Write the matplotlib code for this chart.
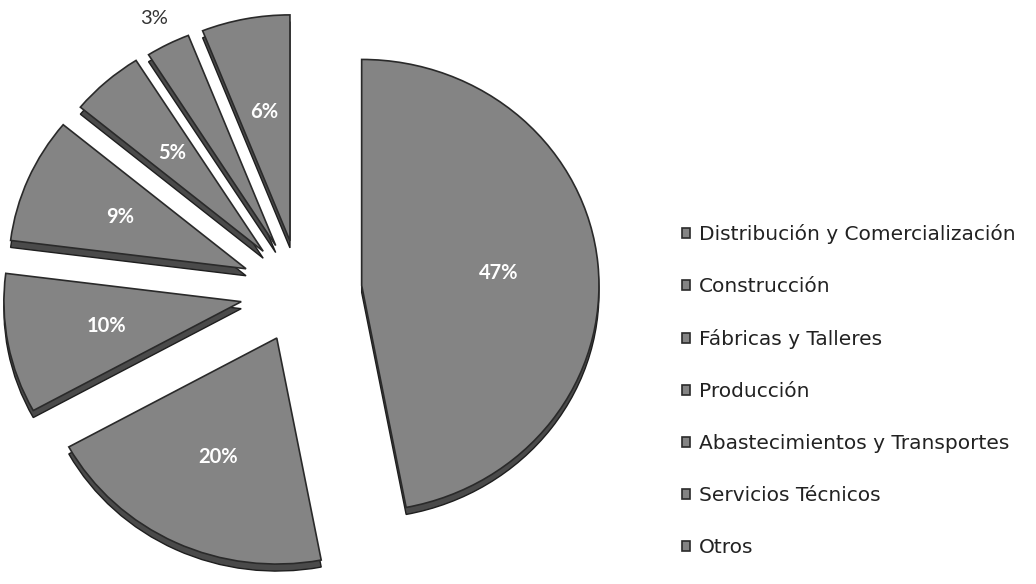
import numpy as np
import matplotlib.pyplot as plt

# shares by sector, clockwise from 12 o'clock
sectores = ["Distribución y Comercialización", "Construcción", "Fábricas y Talleres",
            "Producción", "Abastecimientos y Transportes", "Servicios Técnicos", "Otros"]
porcentajes = [47, 20, 10, 9, 5, 3, 6]

W, H = 1036, 584
estira = 1.05  # pie is a little wider than tall

fig = plt.figure(figsize=(W / 100, H / 100), dpi=100)
ax = fig.add_axes([0, 0, 1, 1])

centro = (300 / estira, 293)
radio = 226
separa = [59, 52, 57, 56, 53, 51, 51]
gris = "#848484"

# side of the 3d pie, drawn a bit lower, then the top face
ax.pie(porcentajes, explode=separa, radius=radio, center=(centro[0], centro[1] - 7),
       startangle=90, counterclock=False, colors=["#4a4a4a"] * 7,
       wedgeprops=dict(edgecolor="#1e1e1e", linewidth=1))
cuñas, _, pcts = ax.pie(porcentajes, explode=separa, radius=radio, center=centro,
                        startangle=90, counterclock=False, colors=[gris] * 7,
                        autopct="%1.0f%%", pctdistance=0.58,
                        wedgeprops=dict(edgecolor="#2a2a2a", linewidth=1.2),
                        textprops=dict(color="white", fontsize=14.5, fontweight="bold",
                                       family="Lato"))

# the thin slice gets its label outside, above the wedge
w = cuñas[5]
ang = np.deg2rad((w.theta1 + w.theta2) / 2)
cx, cy = w.center
pcts[5].set_position((cx + 1.13 * w.r * np.cos(ang), cy + 1.13 * w.r * np.sin(ang)))
pcts[5].set_color("#333333")
pcts[5].set_fontweight("normal")

ax.set_aspect("auto")
ax.set_xlim(0, W / estira)
ax.set_ylim(0, H)
ax.axis("off")

ax.legend(cuñas, sectores, loc="upper left", bbox_to_anchor=(672 / W, 1 - 214 / H),
          bbox_transform=ax.transAxes, frameon=False, borderpad=0,
          prop=dict(family="DejaVu Sans", size=14.5), labelcolor="#222222",
          handlelength=0.38, handleheight=0.38, handletextpad=0.45,
          labelspacing=1.64)

fig.savefig("out.png", dpi=100)
